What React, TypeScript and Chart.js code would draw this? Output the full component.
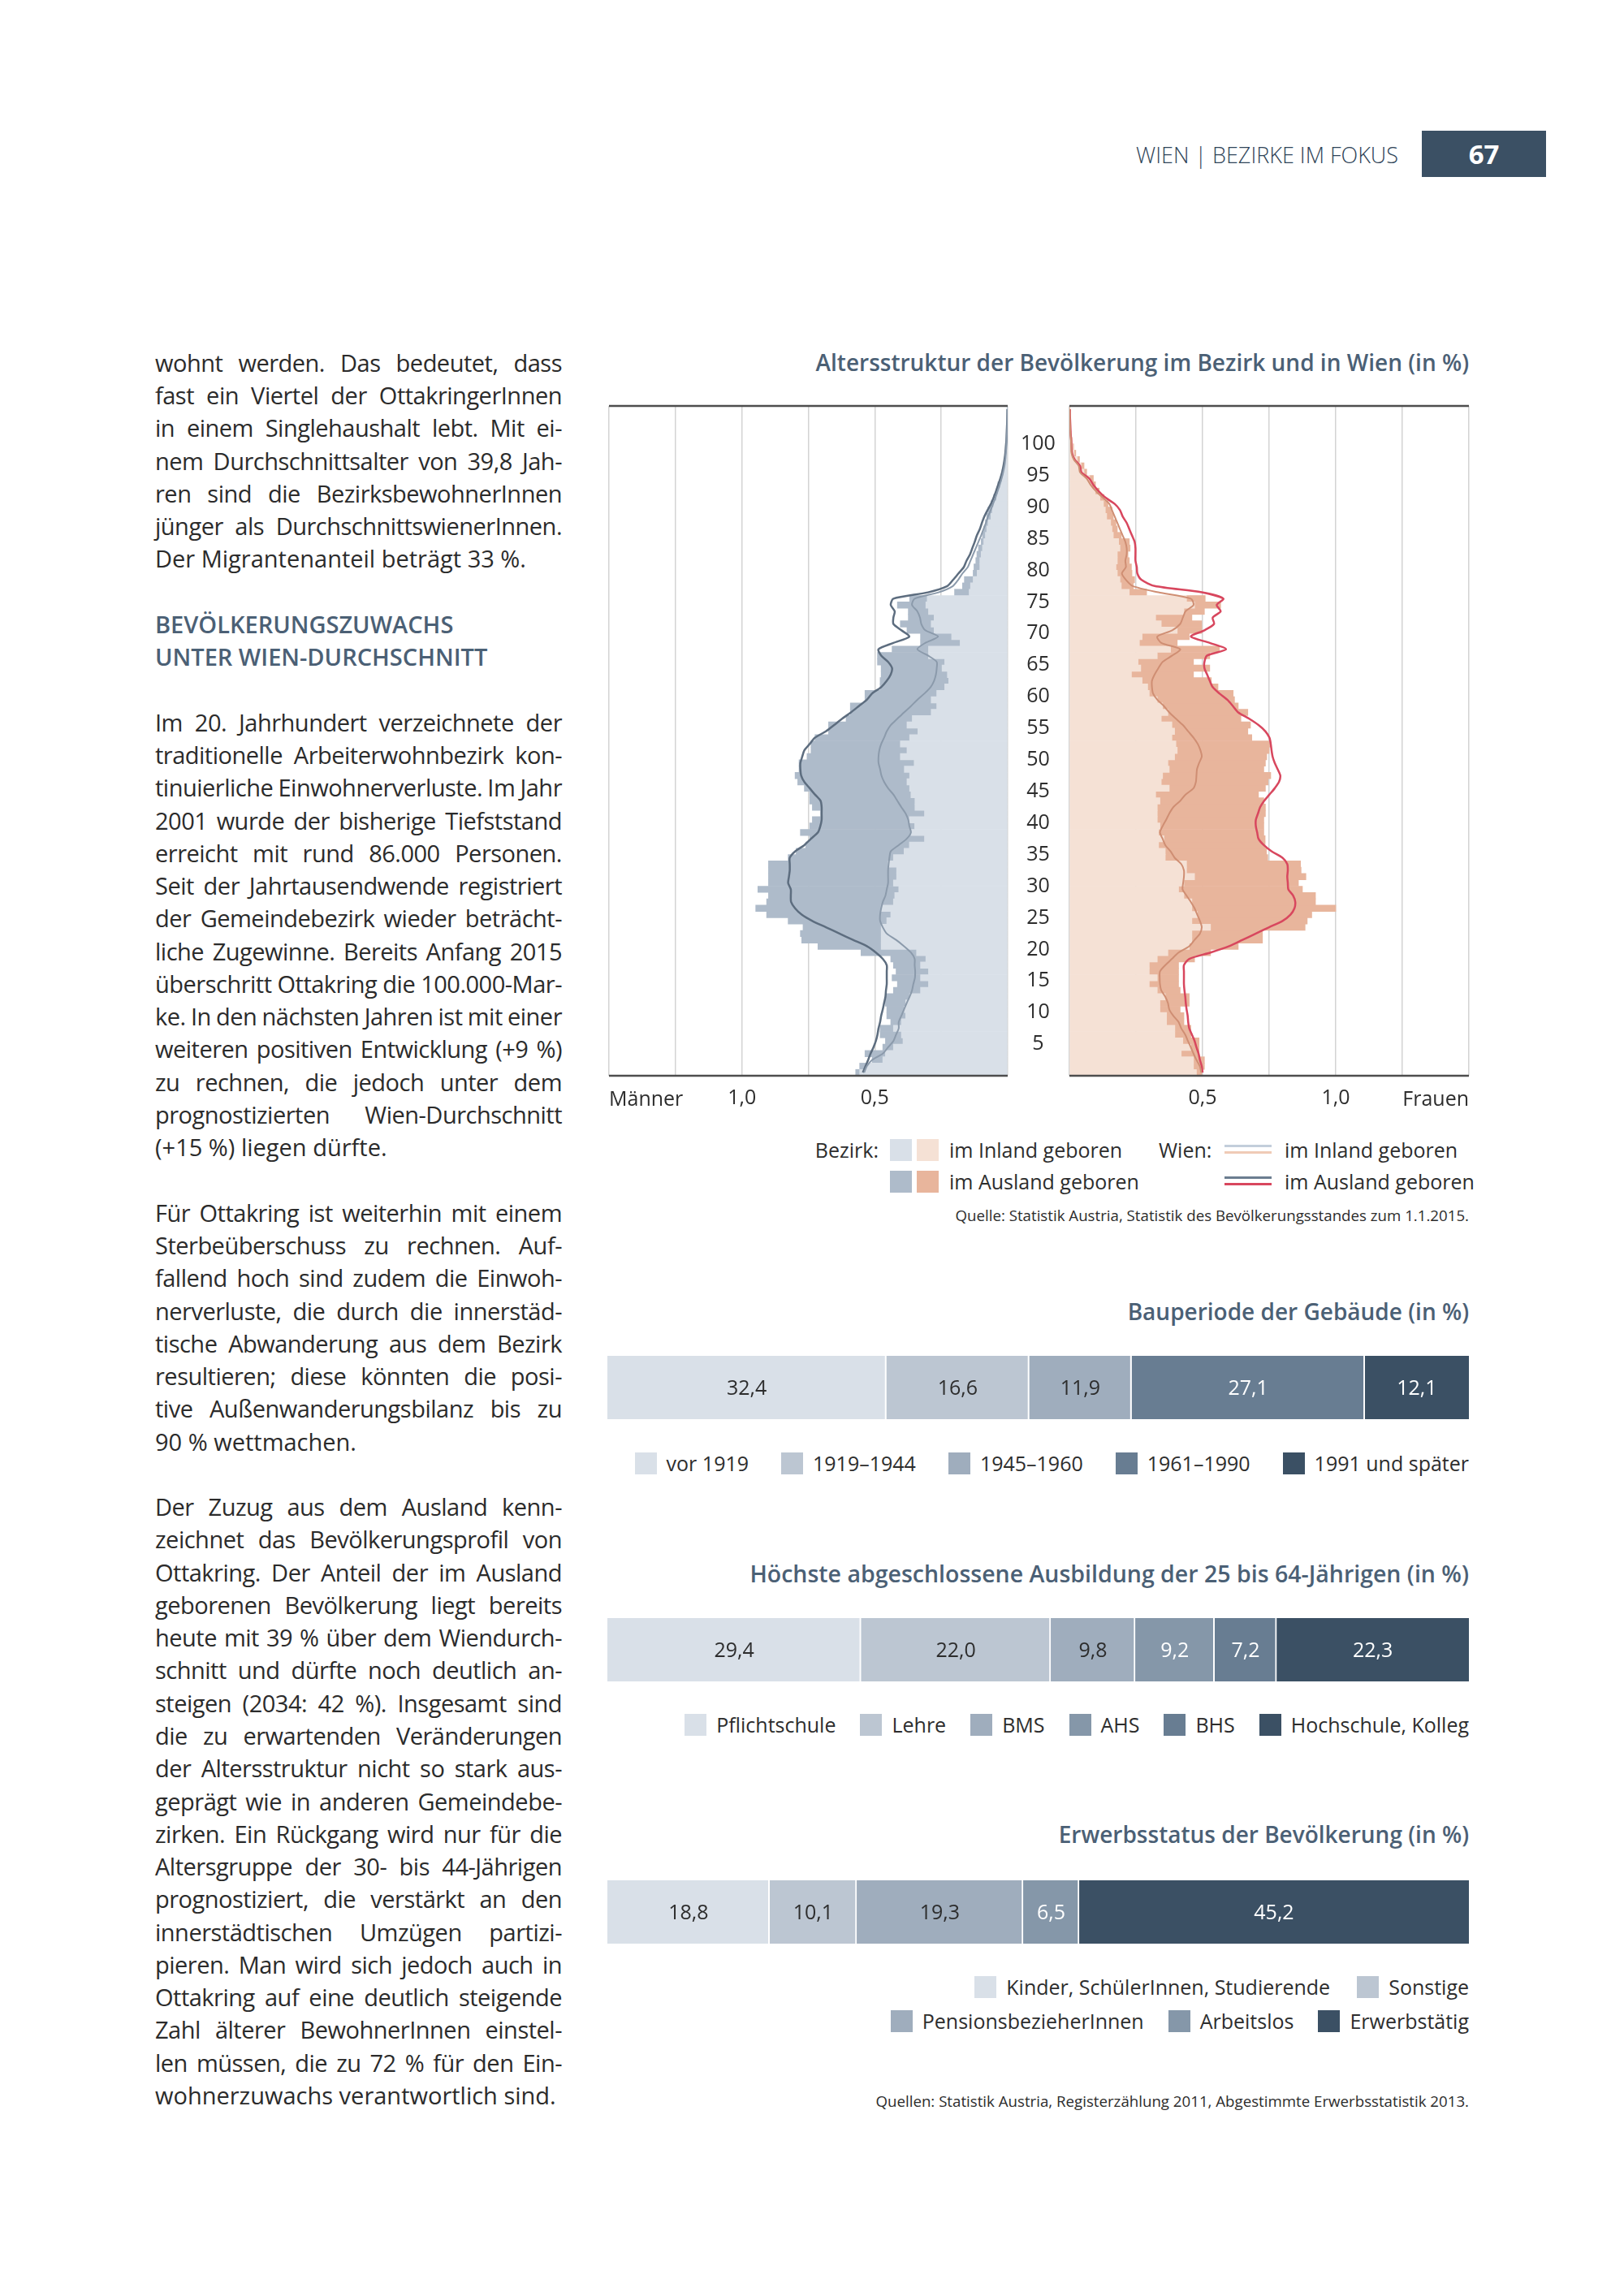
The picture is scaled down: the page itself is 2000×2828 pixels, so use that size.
import React, { useEffect, useRef } from 'react';
import { Chart, registerables } from 'chart.js';

Chart.register(...registerables);

const FONT = "'Open Sans', 'Noto Sans', sans-serif";
Chart.defaults.font.family = FONT;

// ---------- Alterspyramide ----------
const ALTER = ['0','1','2','3','4','5','6','7','8','9','10','11','12','13','14','15','16','17','18','19','20','21','22','23','24','25','26','27','28','29','30','31','32','33','34','35','36','37','38','39','40','41','42','43','44','45','46','47','48','49','50','51','52','53','54','55','56','57','58','59','60','61','62','63','64','65','66','67','68','69','70','71','72','73','74','75','76','77','78','79','80','81','82','83','84','85','86','87','88','89','90','91','92','93','94','95','96','97','98','99','100','101','102','103','104','105'];
const ALTER_TICKS = ['5','10','15','20','25','30','35','40','45','50','55','60','65','70','75','80','85','90','95','100'];

const bezirkMaennerInland = [0.557,0.53,0.47,0.46,0.43,0.394,0.40,0.43,0.40,0.384,0.389,0.384,0.369,0.328,0.298,0.328,0.298,0.328,0.308,0.343,0.476,0.476,0.476,0.476,0.455,0.44,0.476,0.43,0.425,0.41,0.43,0.418,0.418,0.45,0.43,0.39,0.37,0.313,0.364,0.35,0.37,0.313,0.349,0.349,0.364,0.369,0.379,0.369,0.389,0.352,0.404,0.379,0.404,0.369,0.338,0.379,0.359,0.288,0.267,0.288,0.267,0.237,0.222,0.227,0.247,0.237,0.298,0.298,0.179,0.211,0.277,0.288,0.277,0.298,0.308,0.303,0.145,0.14,0.13,0.115,0.105,0.105,0.10,0.095,0.09,0.084,0.079,0.074,0.063,0.058,0.053,0.042,0.037,0.028,0.021,0.016,0.012,0.009,0.006,0.004,0.003,0.002,0.001,0.001,0.0005,0];
const bezirkMaennerGesamt = [0.572,0.557,0.51,0.537,0.47,0.46,0.48,0.48,0.44,0.455,0.455,0.46,0.46,0.43,0.415,0.435,0.42,0.43,0.44,0.552,0.714,0.775,0.78,0.77,0.826,0.907,0.948,0.907,0.90,0.94,0.90,0.90,0.90,0.90,0.826,0.796,0.76,0.745,0.78,0.745,0.735,0.704,0.735,0.745,0.745,0.765,0.79,0.80,0.785,0.785,0.755,0.74,0.74,0.725,0.674,0.674,0.608,0.592,0.592,0.537,0.537,0.48,0.48,0.476,0.476,0.49,0.49,0.435,0.328,0.328,0.379,0.404,0.374,0.374,0.415,0.369,0.20,0.17,0.163,0.13,0.127,0.12,0.116,0.11,0.10,0.095,0.09,0.084,0.079,0.074,0.063,0.053,0.042,0.037,0.026,0.021,0.016,0.012,0.009,0.006,0.004,0.003,0.002,0.001,0.001,0.0005];
const wienMaennerInland = [0.54,0.53,0.51,0.47,0.45,0.43,0.42,0.41,0.41,0.40,0.39,0.38,0.369,0.36,0.355,0.349,0.348,0.35,0.35,0.364,0.39,0.42,0.455,0.47,0.48,0.48,0.476,0.47,0.46,0.455,0.45,0.45,0.45,0.448,0.445,0.44,0.41,0.38,0.364,0.37,0.374,0.384,0.40,0.415,0.43,0.45,0.465,0.475,0.48,0.486,0.486,0.483,0.476,0.465,0.455,0.44,0.415,0.39,0.364,0.34,0.313,0.29,0.277,0.27,0.267,0.267,0.30,0.34,0.31,0.262,0.31,0.325,0.33,0.34,0.36,0.35,0.26,0.206,0.186,0.17,0.15,0.14,0.13,0.12,0.11,0.10,0.091,0.082,0.074,0.064,0.055,0.046,0.038,0.03,0.023,0.017,0.012,0.009,0.007,0.005,0.004,0.003,0.002,0.0015,0.001,0.001];
const wienMaennerGesamt = [0.545,0.535,0.525,0.516,0.505,0.496,0.49,0.486,0.48,0.476,0.47,0.465,0.46,0.458,0.455,0.455,0.455,0.455,0.47,0.496,0.53,0.582,0.633,0.684,0.735,0.775,0.80,0.815,0.816,0.816,0.826,0.823,0.82,0.82,0.82,0.80,0.765,0.74,0.714,0.705,0.70,0.70,0.70,0.704,0.725,0.745,0.765,0.777,0.78,0.78,0.773,0.765,0.745,0.725,0.684,0.653,0.623,0.59,0.56,0.53,0.51,0.476,0.455,0.44,0.435,0.45,0.476,0.486,0.43,0.37,0.40,0.43,0.43,0.425,0.44,0.43,0.30,0.227,0.205,0.185,0.165,0.155,0.142,0.133,0.124,0.116,0.105,0.097,0.088,0.076,0.063,0.053,0.044,0.036,0.028,0.021,0.016,0.012,0.009,0.007,0.005,0.004,0.003,0.002,0.0015,0.001];

const bezirkFrauenInland = [0.477,0.466,0.466,0.42,0.456,0.426,0.396,0.396,0.365,0.365,0.34,0.34,0.36,0.33,0.30,0.33,0.30,0.30,0.33,0.37,0.45,0.46,0.46,0.53,0.46,0.48,0.46,0.46,0.43,0.41,0.43,0.47,0.44,0.44,0.36,0.36,0.335,0.355,0.335,0.34,0.33,0.33,0.33,0.34,0.324,0.375,0.345,0.35,0.375,0.37,0.395,0.405,0.40,0.385,0.395,0.385,0.345,0.37,0.35,0.33,0.30,0.294,0.273,0.233,0.268,0.258,0.33,0.38,0.263,0.273,0.405,0.345,0.324,0.43,0.47,0.44,0.225,0.195,0.19,0.18,0.175,0.18,0.18,0.19,0.185,0.165,0.16,0.155,0.14,0.135,0.128,0.115,0.097,0.085,0.076,0.055,0.044,0.03,0.018,0.013,0.008,0.005,0.003,0.002,0.001,0];
const bezirkFrauenGesamt = [0.497,0.507,0.507,0.487,0.487,0.487,0.456,0.456,0.43,0.43,0.416,0.45,0.45,0.416,0.41,0.41,0.41,0.41,0.47,0.53,0.634,0.725,0.725,0.885,0.893,0.91,1.0,0.924,0.924,0.875,0.86,0.888,0.87,0.868,0.745,0.74,0.735,0.735,0.73,0.73,0.73,0.736,0.736,0.73,0.71,0.736,0.746,0.756,0.73,0.736,0.741,0.75,0.756,0.685,0.67,0.68,0.644,0.67,0.634,0.62,0.615,0.558,0.533,0.466,0.527,0.466,0.527,0.563,0.405,0.45,0.497,0.497,0.46,0.507,0.568,0.51,0.29,0.24,0.245,0.235,0.233,0.225,0.22,0.228,0.225,0.195,0.18,0.175,0.165,0.16,0.145,0.13,0.112,0.098,0.09,0.065,0.055,0.038,0.024,0.016,0.01,0.006,0.004,0.002,0.001,0.001];
const wienFrauenInland = [0.495,0.49,0.477,0.466,0.456,0.445,0.435,0.42,0.41,0.39,0.375,0.37,0.36,0.345,0.34,0.339,0.34,0.36,0.385,0.41,0.45,0.47,0.49,0.497,0.49,0.48,0.47,0.456,0.44,0.425,0.427,0.43,0.43,0.42,0.395,0.38,0.36,0.35,0.34,0.35,0.363,0.375,0.39,0.416,0.436,0.466,0.475,0.477,0.479,0.487,0.497,0.492,0.482,0.466,0.446,0.426,0.40,0.375,0.355,0.33,0.314,0.31,0.31,0.32,0.334,0.35,0.386,0.416,0.345,0.33,0.386,0.416,0.426,0.436,0.466,0.456,0.334,0.238,0.212,0.197,0.212,0.21,0.215,0.215,0.21,0.20,0.19,0.18,0.17,0.16,0.15,0.125,0.10,0.08,0.065,0.04,0.035,0.017,0.008,0.007,0.006,0.004,0.003,0.002,0.0015,0.001];
const wienFrauenGesamt = [0.50,0.497,0.49,0.485,0.477,0.47,0.46,0.45,0.446,0.444,0.44,0.437,0.435,0.432,0.43,0.43,0.43,0.43,0.45,0.53,0.60,0.65,0.70,0.75,0.80,0.83,0.845,0.848,0.84,0.822,0.82,0.818,0.82,0.818,0.80,0.76,0.73,0.71,0.705,0.70,0.70,0.708,0.716,0.731,0.751,0.771,0.787,0.792,0.782,0.771,0.763,0.759,0.756,0.751,0.736,0.71,0.675,0.634,0.614,0.593,0.563,0.538,0.527,0.517,0.507,0.507,0.517,0.588,0.527,0.456,0.507,0.543,0.538,0.568,0.553,0.578,0.497,0.32,0.27,0.255,0.253,0.248,0.248,0.248,0.245,0.235,0.225,0.215,0.20,0.19,0.17,0.135,0.11,0.09,0.075,0.045,0.04,0.02,0.01,0.008,0.007,0.005,0.004,0.003,0.002,0.002];

// ---------- Balken ----------
const bauperiodeKategorien = ['vor 1919', '1919–1944', '1945–1960', '1961–1990', '1991 und später'];
const bauperiodeWerte = [32.4, 16.6, 11.9, 27.1, 12.1];
const ausbildungKategorien = ['Pflichtschule', 'Lehre', 'BMS', 'AHS', 'BHS', 'Hochschule, Kolleg'];
const ausbildungWerte = [29.4, 22.0, 9.8, 9.2, 7.2, 22.3];
const erwerbKategorien = ['Kinder, SchülerInnen, Studierende', 'Sonstige', 'PensionsbezieherInnen', 'Arbeitslos', 'Erwerbstätig'];
const erwerbWerte = [18.8, 10.1, 19.3, 6.5, 45.2];

const C1 = '#d9e0e8', C2 = '#bcc6d2', C3 = '#9fadbd', C4 = '#8597a9', C5 = '#687d92', C6 = '#3b5064';
const bauFarben = [C1, C2, C3, C5, C6];
const bauText = ['#2d2d2d', '#2d2d2d', '#2d2d2d', '#ffffff', '#ffffff'];
const ausFarben = [C1, C2, C3, C4, C5, C6];
const ausText = ['#2d2d2d', '#2d2d2d', '#2d2d2d', '#ffffff', '#ffffff', '#ffffff'];
const erwFarben = [C1, C2, C3, C4, C6];
const erwText = ['#2d2d2d', '#2d2d2d', '#2d2d2d', '#ffffff', '#ffffff'];

const TITLE_COLOR = '#4b6075';
const TEXT_COLOR = '#2b2b2b';

const frameLines = {
  id: 'frameLines',
  afterDatasetsDraw(chart: any) {
    const { ctx, chartArea } = chart;
    ctx.save();
    ctx.strokeStyle = '#4d4d4d';
    ctx.lineWidth = 2.5;
    ctx.beginPath();
    ctx.moveTo(chartArea.left, chartArea.top);
    ctx.lineTo(chartArea.right, chartArea.top);
    ctx.moveTo(chartArea.left, chartArea.bottom);
    ctx.lineTo(chartArea.right, chartArea.bottom);
    ctx.stroke();
    ctx.restore();
  },
};

type PyrProps = {
  left: boolean;
  inland: number[];
  gesamt: number[];
  wienInland: number[];
  wienGesamt: number[];
  barIn: string;
  barAus: string;
  lineIn: string;
  lineAus: string;
  x: number;
  y: number;
  w: number;
  h: number;
  pad: { left: number; right: number; top: number; bottom: number };
};

function Pyramid(p: PyrProps) {
  const ref = useRef<HTMLCanvasElement>(null);
  useEffect(() => {
    const yScale: any = {
      type: 'category',
      reverse: true,
      display: p.left,
      position: 'right',
      grid: { display: false, drawTicks: false },
      border: { display: false },
      ticks: {
        autoSkip: false,
        crossAlign: 'center',
        padding: 16,
        labelOffset: 4,
        color: '#2d2d2d',
        font: { size: 25, family: FONT },
        callback: (_v: any, i: number) => (ALTER_TICKS.includes(ALTER[i]) ? ALTER[i] : ''),
      },
    };
    if (p.left) yScale.afterFit = (s: any) => { s.width = 76; };
    const chart = new Chart(ref.current as HTMLCanvasElement, {
      type: 'bar',
      data: {
        labels: ALTER,
        datasets: [
          { type: 'line', label: 'Wien: im Inland geboren', data: p.wienInland, borderColor: p.lineIn, borderWidth: 2, pointRadius: 0, tension: 0.25, order: 0, indexAxis: 'y' } as any,
          { type: 'line', label: 'Wien: im Ausland geboren', data: p.wienGesamt, borderColor: p.lineAus, borderWidth: 2.5, pointRadius: 0, tension: 0.25, order: 0, indexAxis: 'y' } as any,
          { type: 'bar', label: 'Bezirk: im Inland geboren', data: p.inland, backgroundColor: p.barIn, borderWidth: 0, grouped: false, barPercentage: 1, categoryPercentage: 1, order: 1 } as any,
          { type: 'bar', label: 'Bezirk: im Ausland geboren', data: p.inland.map((v, i) => [v, p.gesamt[i]]), backgroundColor: p.barAus, borderWidth: 0, grouped: false, barPercentage: 1, categoryPercentage: 1, order: 1 } as any,
        ],
      },
      options: {
        indexAxis: 'y',
        animation: false,
        responsive: false,
        maintainAspectRatio: false,
        devicePixelRatio: 1,
        layout: { padding: p.pad },
        plugins: { legend: { display: false }, tooltip: { enabled: false } },
        scales: {
          x: {
            type: 'linear',
            min: 0,
            max: 1.5,
            reverse: p.left,
            ticks: {
              stepSize: 0.25,
              autoSkip: false,
              maxRotation: 0,
              padding: 13,
              color: '#2d2d2d',
              font: { size: 25, family: FONT },
              callback: (v: any) => (v === 0.5 ? '0,5' : v === 1 ? '1,0' : ''),
            },
            grid: { color: '#d3d3d3', lineWidth: 1.5, drawTicks: false },
            border: { display: false },
            afterFit: (s: any) => { s.height = 55; },
          },
          y: yScale,
        },
      } as any,
      plugins: [frameLines],
    });
    return () => chart.destroy();
  }, []);
  return (
    <canvas
      ref={ref}
      width={p.w}
      height={p.h}
      style={{ position: 'absolute', left: p.x, top: p.y, width: p.w, height: p.h }}
    />
  );
}

const fmt = (v: number) => v.toFixed(1).replace('.', ',');

type BarProps = {
  labels: string[];
  values: number[];
  colors: string[];
  textColors: string[];
  x: number;
  y: number;
  w: number;
  h: number;
};

function StackBar(p: BarProps) {
  const ref = useRef<HTMLCanvasElement>(null);
  useEffect(() => {
    const total = p.values.reduce((a, b) => a + b, 0);
    const valueLabels = {
      id: 'valueLabels',
      afterDatasetsDraw(chart: any) {
        const { ctx } = chart;
        ctx.save();
        ctx.font = `400 25px ${FONT}`;
        ctx.textAlign = 'center';
        ctx.textBaseline = 'middle';
        chart.data.datasets.forEach((ds: any, i: number) => {
          const el = chart.getDatasetMeta(i).data[0] as any;
          ctx.fillStyle = p.textColors[i];
          ctx.fillText(fmt(ds.data[0]), (el.x + el.base) / 2, el.y + 2);
        });
        ctx.restore();
      },
    };
    const chart = new Chart(ref.current as HTMLCanvasElement, {
      type: 'bar',
      data: {
        labels: [''],
        datasets: p.values.map((v, i) => ({
          label: p.labels[i],
          data: [v],
          backgroundColor: p.colors[i],
          borderColor: '#ffffff',
          borderWidth: { top: 0, bottom: 0, left: 0, right: i < p.values.length - 1 ? 2 : 0 },
          borderSkipped: false,
          barPercentage: 1,
          categoryPercentage: 1,
          stack: 's',
        })),
      },
      options: {
        indexAxis: 'y',
        animation: false,
        responsive: false,
        maintainAspectRatio: false,
        devicePixelRatio: 1,
        layout: { padding: 0 },
        plugins: { legend: { display: false }, tooltip: { enabled: false } },
        scales: {
          x: { display: false, stacked: true, min: 0, max: total },
          y: { display: false, stacked: true },
        },
      } as any,
      plugins: [valueLabels],
    });
    return () => chart.destroy();
  }, []);
  return (
    <canvas
      ref={ref}
      width={p.w}
      height={p.h}
      style={{ position: 'absolute', left: p.x, top: p.y, width: p.w, height: p.h }}
    />
  );
}

function Legend({ items, colors, top, gap = 33 }: { items: string[]; colors: string[]; top: number; gap?: number }) {
  return (
    <div
      style={{
        position: 'absolute',
        left: 748,
        width: 1061,
        top: top - 18,
        height: 36,
        display: 'flex',
        justifyContent: 'flex-end',
        alignItems: 'center',
        gap,
        fontFamily: FONT,
        fontSize: 25,
        color: '#2d2d2d',
        whiteSpace: 'nowrap',
      }}
    >
      {items.map((t, i) => (
        <div key={t} style={{ display: 'flex', alignItems: 'center' }}>
          <div style={{ width: 27, height: 27, background: colors[i], marginRight: 12 }} />
          <span>{t}</span>
        </div>
      ))}
    </div>
  );
}

const textRows: [string, string][] = [
  ['p', 'wohnt werden. Das bedeutet, dass'],
  ['p', 'fast ein Viertel der OttakringerInnen'],
  ['p', 'in einem Singlehaushalt lebt. Mit ei-'],
  ['p', 'nem Durchschnittsalter von 39,8 Jah-'],
  ['p', 'ren sind die BezirksbewohnerInnen'],
  ['p', 'jünger als DurchschnittswienerInnen.'],
  ['e', 'Der Migrantenanteil beträgt 33\u00a0%.'],
  ['b', ''],
  ['h', 'BEVÖLKERUNGSZUWACHS'],
  ['h', 'UNTER WIEN-DURCHSCHNITT'],
  ['b', ''],
  ['p', 'Im 20. Jahrhundert verzeichnete der'],
  ['p', 'traditionelle Arbeiterwohnbezirk kon-'],
  ['p', 'tinuierliche Einwohnerverluste. Im Jahr'],
  ['p', '2001 wurde der bisherige Tiefststand'],
  ['p', 'erreicht mit rund 86.000 Personen.'],
  ['p', 'Seit der Jahrtausendwende registriert'],
  ['p', 'der Gemeindebezirk wieder beträcht-'],
  ['p', 'liche Zugewinne. Bereits Anfang 2015'],
  ['p', 'überschritt Ottakring die 100.000-Mar-'],
  ['p', 'ke. In den nächsten Jahren ist mit einer'],
  ['p', 'weiteren positiven Entwicklung (+9\u00a0%)'],
  ['p', 'zu rechnen, die jedoch unter dem'],
  ['p', 'prognostizierten Wien-Durchschnitt'],
  ['e', '(+15\u00a0%) liegen dürfte.'],
  ['b', ''],
  ['p', 'Für Ottakring ist weiterhin mit einem'],
  ['p', 'Sterbeüberschuss zu rechnen. Auf-'],
  ['p', 'fallend hoch sind zudem die Einwoh-'],
  ['p', 'nerverluste, die durch die innerstäd-'],
  ['p', 'tische Abwanderung aus dem Bezirk'],
  ['p', 'resultieren; diese könnten die posi-'],
  ['p', 'tive Außenwanderungsbilanz bis zu'],
  ['e', '90\u00a0% wettmachen.'],
  ['b', ''],
  ['p', 'Der Zuzug aus dem Ausland kenn-'],
  ['p', 'zeichnet das Bevölkerungsprofil von'],
  ['p', 'Ottakring. Der Anteil der im Ausland'],
  ['p', 'geborenen Bevölkerung liegt bereits'],
  ['p', 'heute mit 39\u00a0% über dem Wiendurch-'],
  ['p', 'schnitt und dürfte noch deutlich an-'],
  ['p', 'steigen (2034: 42\u00a0%). Insgesamt sind'],
  ['p', 'die zu erwartenden Veränderungen'],
  ['p', 'der Altersstruktur nicht so stark aus-'],
  ['p', 'geprägt wie in anderen Gemeindebe-'],
  ['p', 'zirken. Ein Rückgang wird nur für die'],
  ['p', 'Altersgruppe der 30- bis 44-Jährigen'],
  ['p', 'prognostiziert, die verstärkt an den'],
  ['p', 'innerstädtischen Umzügen partizi-'],
  ['p', 'pieren. Man wird sich jedoch auch in'],
  ['p', 'Ottakring auf eine deutlich steigende'],
  ['p', 'Zahl älterer BewohnerInnen einstel-'],
  ['p', 'len müssen, die zu 72\u00a0% für den Ein-'],
  ['e', 'wohnerzuwachs verantwortlich sind.'],
];

const ROW_H = 40.28;

function Txt({ x, y, text, align = 'left', size = 25, weight = 400, color = '#2d2d2d' }: any) {
  const lh = size * 1.4;
  const style: any = {
    position: 'absolute',
    top: y - lh / 2,
    height: lh,
    lineHeight: `${lh}px`,
    fontSize: size,
    fontWeight: weight,
    fontFamily: FONT,
    color,
    whiteSpace: 'nowrap',
  };
  if (align === 'right') style.right = 2000 - x;
  else style.left = x;
  return <div style={style}>{text}</div>;
}

function LineIcon({ x, y, top, bottom }: { x: number; y: number; top: string; bottom: string }) {
  return (
    <div style={{ position: 'absolute', left: x, top: y - 6, width: 58 }}>
      <div style={{ height: 3, background: top }} />
      <div style={{ height: 5 }} />
      <div style={{ height: 3, background: bottom }} />
    </div>
  );
}

export default function App() {
  return (
    <div style={{ position: 'absolute', left: 0, top: 0, width: 2000, height: 2828, background: '#ffffff', fontFamily: FONT, overflow: 'hidden' }}>
      {/* Kopfzeile */}
      <Txt x={1722} y={191} text="WIEN | BEZIRKE IM FOKUS" align="right" size={27} weight={300} color="#2f4458" />
      <div style={{ position: 'absolute', left: 1751, top: 161, width: 153, height: 57, background: '#3b5064', color: '#fff', fontFamily: FONT, fontWeight: 700, fontSize: 33, lineHeight: '57px', textAlign: 'center' }}>67</div>

      {/* Fließtext */}
      <div style={{ position: 'absolute', left: 191, top: 447 - ROW_H / 2, width: 501 }}>
        {textRows.map(([k, t], i) => (
          <div
            key={i}
            style={{
              height: ROW_H,
              lineHeight: `${ROW_H}px`,
              fontSize: 29,
              whiteSpace: 'nowrap',
              letterSpacing: k === 'p' ? '-0.5px' : 'normal',
              wordSpacing: k === 'p' ? '-2px' : 'normal',
              textAlign: k === 'p' ? 'justify' : 'left',
              textAlignLast: k === 'p' ? 'justify' : 'left',
              color: k === 'h' ? TITLE_COLOR : TEXT_COLOR,
              fontWeight: k === 'h' ? 600 : 400,
            } as any}
          >
            {t}
          </div>
        ))}
      </div>

      {/* Alterspyramide */}
      <Txt x={1809} y={447} text="Altersstruktur der Bevölkerung im Bezirk und in Wien (in %)" align="right" size={28} weight={600} color={TITLE_COLOR} />
      <Pyramid left x={737} y={466} w={580} h={914} pad={{ left: 13, right: 0, top: 34, bottom: 0 }}
        inland={bezirkMaennerInland} gesamt={bezirkMaennerGesamt}
        wienInland={wienMaennerInland} wienGesamt={wienMaennerGesamt}
        barIn="#d9e0e8" barAus="#aebbca" lineIn="#8b9aab" lineAus="#5d6d7f" />
      <Pyramid left={false} x={1304} y={480} w={518} h={900} pad={{ left: 13, right: 13, top: 20, bottom: 0 }}
        inland={bezirkFrauenInland} gesamt={bezirkFrauenGesamt}
        wienInland={wienFrauenInland} wienGesamt={wienFrauenGesamt}
        barIn="#f5e1d5" barAus="#e8b59c" lineIn="#cf8e73" lineAus="#d8475e" />
      <Txt x={750} y={1352} text="Männer" size={25} />
      <Txt x={1809} y={1352} text="Frauen" align="right" size={25} />

      {/* Legende Pyramide */}
      <Txt x={1082} y={1416} text="Bezirk:" align="right" size={25} />
      <div style={{ position: 'absolute', left: 1096, top: 1403, width: 27, height: 27, background: '#d9e0e8' }} />
      <div style={{ position: 'absolute', left: 1129, top: 1403, width: 27, height: 27, background: '#f5e1d5' }} />
      <div style={{ position: 'absolute', left: 1096, top: 1442, width: 27, height: 27, background: '#aebbca' }} />
      <div style={{ position: 'absolute', left: 1129, top: 1442, width: 27, height: 27, background: '#e8b59c' }} />
      <Txt x={1169} y={1416} text="im Inland geboren" size={25} />
      <Txt x={1169} y={1455} text="im Ausland geboren" size={25} />
      <Txt x={1427} y={1416} text="Wien:" size={25} />
      <LineIcon x={1508} y={1416} top="#c3cedb" bottom="#f0cbb6" />
      <LineIcon x={1508} y={1455} top="#6b7d90" bottom="#d8475e" />
      <Txt x={1582} y={1416} text="im Inland geboren" size={25} />
      <Txt x={1582} y={1455} text="im Ausland geboren" size={25} />
      <Txt x={1809} y={1497} text="Quelle: Statistik Austria, Statistik des Bevölkerungsstandes zum 1.1.2015." align="right" size={18.7} />

      {/* Bauperiode */}
      <Txt x={1809} y={1616} text="Bauperiode der Gebäude (in %)" align="right" size={28} weight={600} color={TITLE_COLOR} />
      <StackBar labels={bauperiodeKategorien} values={bauperiodeWerte} colors={bauFarben} textColors={bauText} x={748} y={1670} w={1061} h={78} />
      <Legend items={bauperiodeKategorien} colors={bauFarben} top={1802} gap={40} />

      {/* Ausbildung */}
      <Txt x={1809} y={1939} text="Höchste abgeschlossene Ausbildung der 25 bis 64-Jährigen (in %)" align="right" size={28.5} weight={600} color={TITLE_COLOR} />
      <StackBar labels={ausbildungKategorien} values={ausbildungWerte} colors={ausFarben} textColors={ausText} x={748} y={1993} w={1061} h={78} />
      <Legend items={ausbildungKategorien} colors={ausFarben} top={2124} gap={30} />

      {/* Erwerbsstatus */}
      <Txt x={1809} y={2260} text="Erwerbsstatus der Bevölkerung (in %)" align="right" size={28} weight={600} color={TITLE_COLOR} />
      <StackBar labels={erwerbKategorien} values={erwerbWerte} colors={erwFarben} textColors={erwText} x={748} y={2316} w={1061} h={78} />
      <Legend items={erwerbKategorien.slice(0, 2)} colors={erwFarben.slice(0, 2)} top={2447} />
      <Legend items={erwerbKategorien.slice(2)} colors={erwFarben.slice(2)} top={2489} gap={30} />
      <Txt x={1809} y={2588} text="Quellen: Statistik Austria, Registerzählung 2011, Abgestimmte Erwerbsstatistik 2013." align="right" size={18.7} />
    </div>
  );
}
